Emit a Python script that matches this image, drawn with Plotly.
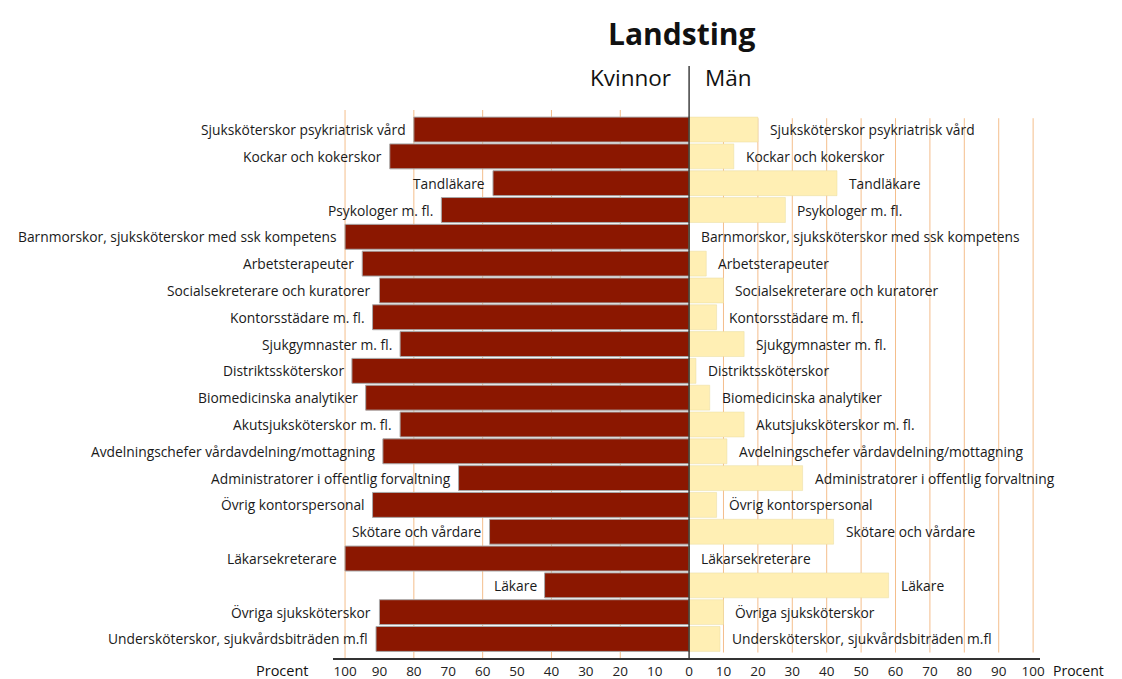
import plotly.graph_objects as go

categories = [
    "Sjuksköterskor psykriatrisk vård",
    "Kockar och kokerskor",
    "Tandläkare",
    "Psykologer m. fl.",
    "Barnmorskor, sjuksköterskor med ssk kompetens",
    "Arbetsterapeuter",
    "Socialsekreterare och kuratorer",
    "Kontorsstädare m. fl.",
    "Sjukgymnaster m. fl.",
    "Distriktssköterskor",
    "Biomedicinska analytiker",
    "Akutsjuksköterskor m. fl.",
    "Avdelningschefer vårdavdelning/mottagning",
    "Administratorer i offentlig forvaltning",
    "Övrig kontorspersonal",
    "Skötare och vårdare",
    "Läkarsekreterare",
    "Läkare",
    "Övriga sjuksköterskor",
    "Undersköterskor, sjukvårdsbiträden m.fl",
]
kvinnor = [80, 87, 57, 72, 100, 95, 90, 92, 84, 98, 94, 84, 89, 67, 92, 58, 100, 42, 90, 91]
man = [20, 13, 43, 28, 0, 5, 10, 8, 16, 2, 6, 16, 11, 33, 8, 42, 0, 58, 10, 9]

tick_values = list(range(-100, 101, 10))
tick_labels = [str(abs(v)) for v in tick_values]
grid_left = [-100, -80, -60, -40, -20]
grid_right = list(range(10, 101, 10))

FONT = "Open Sans"
RED = "#8B1700"
YELLOW = "#FFEFB4"
GRID = "#F4BE8C"
LABEL_SIZE = 13.8

fig = go.Figure()
fig.add_trace(go.Bar(
    y=categories, x=[-v for v in kvinnor], orientation="h", name="Kvinnor",
    marker=dict(color=RED, line=dict(color="#A8A8A8", width=1)),
    hoverinfo="skip", showlegend=False,
))
fig.add_trace(go.Bar(
    y=categories, x=man, orientation="h", name="Män",
    marker=dict(color=YELLOW, line=dict(color="#E9DCA0", width=0.5)),
    hoverinfo="skip", showlegend=False,
))

shapes = []
for g in grid_left:
    shapes.append(dict(type="line", xref="x", yref="paper", x0=g, x1=g, y0=0, y1=1,
                       line=dict(color=GRID, width=1), layer="below"))
for g in grid_right:
    shapes.append(dict(type="line", xref="x", yref="paper", x0=g, x1=g, y0=0.01, y1=0.985,
                       line=dict(color=GRID, width=1), layer="below"))
shapes.append(dict(type="line", xref="x", yref="paper", x0=0, x1=0, y0=0, y1=1.0803,
                   line=dict(color="#111", width=1.2), layer="above"))

annotations = []
for c, k, m in zip(categories, kvinnor, man):
    annotations.append(dict(x=-k, y=c, xref="x", yref="y", text=c, showarrow=False,
                            xanchor="right", xshift=-6, font=dict(family=FONT, size=LABEL_SIZE, color="#1a1a1a")))
    annotations.append(dict(x=m, y=c, xref="x", yref="y", text=c, showarrow=False,
                            xanchor="left", xshift=10, font=dict(family=FONT, size=LABEL_SIZE, color="#1a1a1a")))

annotations += [
    dict(x=-2, y=1.1405, xref="x", yref="paper", text="<b>Landsting</b>", showarrow=False,
         xanchor="center", yanchor="middle", font=dict(family=FONT, size=30, color="#111")),
    dict(x=-4.6, y=1.0584, xref="x", yref="paper", text="Kvinnor", showarrow=False,
         xanchor="right", yanchor="middle", font=dict(family=FONT, size=22.5, color="#111")),
    dict(x=4.0, y=1.0584, xref="x", yref="paper", text="Män", showarrow=False,
         xanchor="left", yanchor="middle", font=dict(family=FONT, size=22.5, color="#111")),
    dict(x=-0.072, y=-0.022, xref="paper", yref="paper", text="Procent", showarrow=False,
         xanchor="center", yanchor="middle", font=dict(family=FONT, size=14.5, color="#111")),
    dict(x=1.094, y=-0.022, xref="paper", yref="paper", text="Procent", showarrow=False,
         xanchor="right", yanchor="middle", font=dict(family=FONT, size=14, color="#111")),
]

fig.update_layout(
    width=1122, height=679,
    margin=dict(l=325, r=90, t=102, b=29, autoexpand=False),
    paper_bgcolor="white", plot_bgcolor="white",
    barmode="relative", bargap=0.07,
    shapes=shapes, annotations=annotations,
    xaxis=dict(range=[-103.5, 102], tickvals=tick_values, ticktext=tick_labels,
               showgrid=False, zeroline=False, showline=True, linecolor="#333", linewidth=1.5,
               ticks="", tickfont=dict(family=FONT, size=13.5, color="#222"), automargin=False),
    yaxis=dict(type="category", range=[19.71, -0.73], showticklabels=False, showgrid=False,
               zeroline=False, showline=False, automargin=False),
)

fig.write_html("out.html")
